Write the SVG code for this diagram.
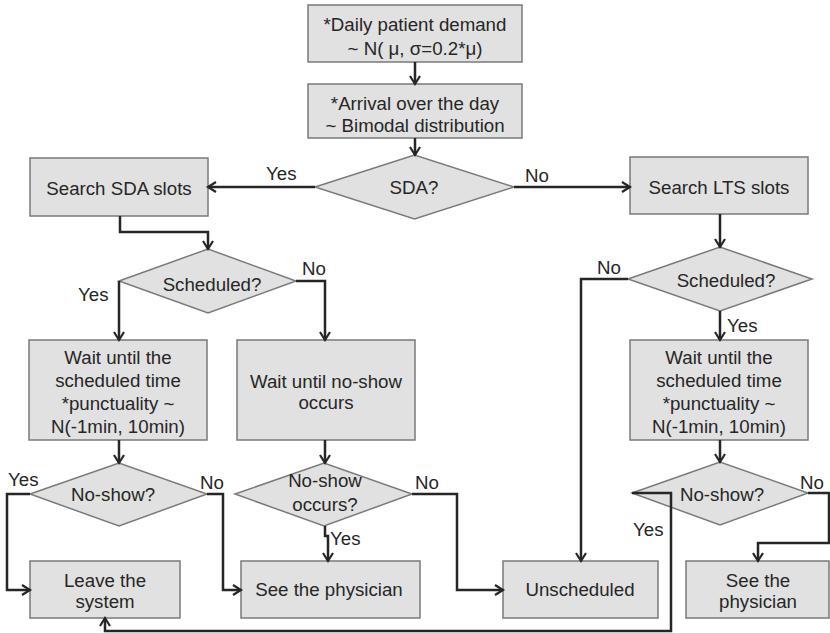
<svg xmlns="http://www.w3.org/2000/svg" width="830" height="633" viewBox="0 0 830 633">
  <defs>
    <style>
      .box { fill: #e1e1e1; stroke: #7a7a7a; stroke-width: 1.5; }
      .dec { fill: #e1e1e1; stroke: #7a7a7a; stroke-width: 1.5; }
      .t { font-family: "Liberation Sans", Arial, sans-serif; font-size: 18.7px; fill: #262626; text-anchor: middle; }
      .lbl { font-family: "Liberation Sans", Arial, sans-serif; font-size: 18.7px; fill: #262626; }
      .edge { fill: none; stroke: #262626; stroke-width: 2.5; marker-end: url(#arrow); }
    </style>
    <marker id="arrow" markerUnits="userSpaceOnUse" markerWidth="12" markerHeight="12" refX="9" refY="6" orient="auto">
      <path d="M1,1 L9,6 L1,11" fill="none" stroke="#262626" stroke-width="2.2"/>
    </marker>
  </defs>

  <g id="demand">
    <rect class="box" x="308" y="5" width="214" height="57"/>
    <text class="t" x="415" y="31">*Daily patient demand</text>
    <text class="t" x="415" y="55">~ N( μ, σ=0.2*μ)</text>
  </g>
  <g id="arrival">
    <rect class="box" x="308" y="84" width="214" height="54"/>
    <text class="t" x="415" y="110">*Arrival over the day</text>
    <text class="t" x="415" y="132">~ Bimodal distribution</text>
  </g>
  <g id="sda">
    <polygon class="dec" points="315,187 414.5,155 514,187 414.5,219"/>
    <text class="t" x="414" y="194">SDA?</text>
  </g>
  <g id="search-sda">
    <rect class="box" x="30" y="158" width="178" height="58"/>
    <text class="t" x="119" y="195">Search SDA slots</text>
  </g>
  <g id="search-lts">
    <rect class="box" x="630" y="157" width="178" height="57"/>
    <text class="t" x="719" y="194">Search LTS slots</text>
  </g>
  <g id="scheduled-sda">
    <polygon class="dec" points="119,281 208,249 296,281 208,313"/>
    <text class="t" x="212" y="291">Scheduled?</text>
  </g>
  <g id="scheduled-lts">
    <polygon class="dec" points="628,279 720,247 812,279 720,311"/>
    <text class="t" x="726" y="287">Scheduled?</text>
  </g>
  <g id="wait-sda">
    <rect class="box" x="29" y="340" width="178" height="100"/>
    <text class="t" x="118" y="364">Wait until the</text>
    <text class="t" x="118" y="387">scheduled time</text>
    <text class="t" x="118" y="410">*punctuality ~</text>
    <text class="t" x="118" y="433">N(-1min, 10min)</text>
  </g>
  <g id="wait-noshow">
    <rect class="box" x="237" y="340" width="178" height="100"/>
    <text class="t" x="326" y="388">Wait until no-show</text>
    <text class="t" x="326" y="409">occurs</text>
  </g>
  <g id="wait-lts">
    <rect class="box" x="630" y="340" width="178" height="100"/>
    <text class="t" x="719" y="364">Wait until the</text>
    <text class="t" x="719" y="387">scheduled time</text>
    <text class="t" x="719" y="410">*punctuality ~</text>
    <text class="t" x="719" y="433">N(-1min, 10min)</text>
  </g>
  <g id="noshow-sda">
    <polygon class="dec" points="30,494 119,463 207,494 119,526"/>
    <text class="t" x="113" y="501">No-show?</text>
  </g>
  <g id="noshow-occurs">
    <polygon class="dec" points="235,494 324,463 412,494 324,526"/>
    <text class="t" x="325" y="487">No-show</text>
    <text class="t" x="325" y="511">occurs?</text>
  </g>
  <g id="noshow-lts">
    <polygon class="dec" points="632,493 720,462 808,493 720,525"/>
    <text class="t" x="722" y="501">No-show?</text>
  </g>
  <g id="leave">
    <rect class="box" x="30" y="561" width="150" height="57"/>
    <text class="t" x="105" y="587">Leave the</text>
    <text class="t" x="105" y="608">system</text>
  </g>
  <g id="physician-mid">
    <rect class="box" x="241" y="561" width="179" height="57"/>
    <text class="t" x="329" y="596">See the physician</text>
  </g>
  <g id="unscheduled">
    <rect class="box" x="503" y="561" width="155" height="57"/>
    <text class="t" x="580" y="596">Unscheduled</text>
  </g>
  <g id="physician-lts">
    <rect class="box" x="686" y="561" width="143" height="57"/>
    <text class="t" x="758" y="587">See the</text>
    <text class="t" x="758" y="608">physician</text>
  </g>

  <!-- connectors, drawn over the shapes -->
  <g id="connectors">
    <path class="edge" d="M415,62 V84"/>
    <path class="edge" d="M415,138 V155"/>
    <path class="edge" d="M315,187 H208"/>
    <path class="edge" d="M514,187 H630"/>
    <path class="edge" d="M120,216 V232 H208 V249"/>
    <path class="edge" d="M119,281 V340"/>
    <path class="edge" d="M296,281 H325 V340"/>
    <path class="edge" d="M119,440 V463"/>
    <path class="edge" d="M325,440 V463"/>
    <path class="edge" d="M30,494 H7 V590 H30"/>
    <path class="edge" d="M207,494 H223 V590 H241"/>
    <path class="edge" d="M325,526 V536 H328 V561"/>
    <path class="edge" d="M412,494 H457 V590 H503"/>
    <path class="edge" d="M720,214 V247"/>
    <path class="edge" d="M628,279 H581 V561"/>
    <path class="edge" d="M720,311 V340"/>
    <path class="edge" d="M720,440 V462"/>
    <path class="edge" d="M808,493 H829 V543 H758 V561"/>
    <path class="edge" d="M632,493 H671 V631 H105 V618"/>
  </g>

  <!-- edge labels -->
  <g id="labels">
    <text class="lbl" x="266" y="180">Yes</text>
    <text class="lbl" x="525" y="182">No</text>
    <text class="lbl" x="302" y="275">No</text>
    <text class="lbl" x="78" y="301">Yes</text>
    <text class="lbl" x="597" y="274">No</text>
    <text class="lbl" x="727" y="332">Yes</text>
    <text class="lbl" x="8" y="486">Yes</text>
    <text class="lbl" x="200" y="489">No</text>
    <text class="lbl" x="415" y="489">No</text>
    <text class="lbl" x="330" y="545">Yes</text>
    <text class="lbl" x="800" y="489">No</text>
    <text class="lbl" x="633" y="536">Yes</text>
  </g>
</svg>
